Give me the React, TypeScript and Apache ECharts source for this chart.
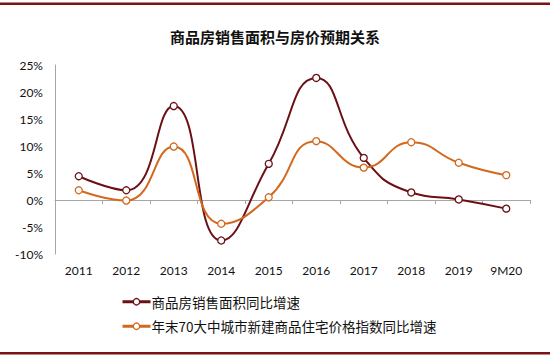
import React, { useEffect, useRef } from "react";
import * as echarts from "echarts";

const categories = ["2011", "2012", "2013", "2014", "2015", "2016", "2017", "2018", "2019", "9M20"];
const salesArea = [4.4, 1.8, 17.4, -7.5, 6.7, 22.6, 7.8, 1.4, 0.1, -1.6];
const priceIndex = [1.8, -0.1, 9.9, -4.4, 0.5, 10.9, 6.0, 10.7, 6.9, 4.6];
const seriesNames = ["商品房销售面积同比增速", "年末70大中城市新建商品住宅价格指数同比增速"];
const title = "商品房销售面积与房价预期关系";

const DARK = "#6B1115";
const ORANGE = "#D2691E";
const CJK = "'Noto Sans CJK SC', sans-serif";
const NUM = "Lato, 'Open Sans', sans-serif";

export default function App() {
  const ref = useRef<HTMLDivElement>(null);
  useEffect(() => {
    document.body.style.margin = "0";
    const chart = echarts.init(ref.current!, null, { renderer: "svg" });
    const mkSeries = (name: string, data: number[], color: string) => ({
      name,
      type: "line",
      data,
      smooth: 0.5,
      symbol: "circle",
      symbolSize: 7,
      showSymbol: true,
      lineStyle: { color, width: 2 },
      itemStyle: { color: "#ffffff", borderColor: color, borderWidth: 1.3 },
      xAxisIndex: 0,
    });
    chart.setOption({
      animation: false,
      backgroundColor: "#ffffff",
      title: {
        text: title,
        left: "center",
        top: 24,
        textStyle: { fontFamily: CJK, fontSize: 15, fontWeight: "bold", color: "#111" },
      },
      graphic: [
        { type: "rect", shape: { x: 0, y: 2.5, width: 550, height: 2.5 }, style: { fill: "#7B1416" } },
        { type: "rect", shape: { x: 0, y: 352, width: 550, height: 2.5 }, style: { fill: "#7B1416" } },
      ],
      legend: {
        orient: "vertical",
        left: 116,
        top: 290,
        itemWidth: 28,
        itemHeight: 8,
        itemGap: 11,
        data: [
          {
            name: seriesNames[0],
            itemStyle: { color: "#fff", borderColor: DARK, borderWidth: 1.3 },
            lineStyle: { width: 3, color: DARK },
          },
          {
            name: seriesNames[1],
            itemStyle: { color: "#fff", borderColor: ORANGE, borderWidth: 1.3 },
            lineStyle: { width: 3, color: ORANGE },
          },
        ],
        textStyle: { fontFamily: CJK, fontSize: 13.5, color: "#111", padding: [0, 0, 0, -4] },
      },
      grid: { left: 55, right: 20, top: 65, bottom: 102, containLabel: false },
      xAxis: [
        {
          type: "category",
          data: categories,
          boundaryGap: true,
          position: "bottom",
          axisLine: { show: false, onZero: false },
          axisTick: { show: false },
          axisLabel: { fontFamily: NUM, fontSize: 12, color: "#111", margin: 10 },
        },
        {
          type: "category",
          data: categories,
          boundaryGap: true,
          position: "bottom",
          axisLine: { show: true, onZero: true, lineStyle: { color: "#A6A6A6", width: 1 } },
          axisTick: { show: true, length: 4, lineStyle: { color: "#A6A6A6" } },
          axisLabel: { show: false },
        },
      ],
      yAxis: {
        type: "value",
        min: -10,
        max: 25,
        interval: 5,
        axisLine: { show: true, lineStyle: { color: "#A6A6A6" } },
        axisTick: { show: false },
        splitLine: { show: false },
        axisLabel: {
          formatter: "{value}%",
          fontFamily: NUM,
          fontSize: 12,
          color: "#111",
          margin: 12,
        },
      },
      series: [mkSeries(seriesNames[0], salesArea, DARK), mkSeries(seriesNames[1], priceIndex, ORANGE)],
    });
    return () => chart.dispose();
  }, []);
  return <div ref={ref} style={{ width: 550, height: 356 }} />;
}
